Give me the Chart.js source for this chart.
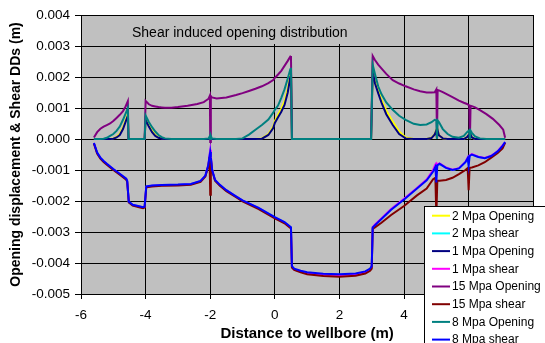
<!DOCTYPE html>
<html>
<head>
<meta charset="utf-8">
<script src="https://cdn.jsdelivr.net/npm/chart.js@4.4.1/dist/chart.umd.min.js"></script>
<style>
  html, body { margin: 0; padding: 0; background: #fff; }
</style>
</head>
<body>
<canvas id="ddChart" width="545" height="343"></canvas>
<script>
// distance along the fracture (m) at which the opening DDs were sampled
const openX = [
  -5.6, -5.5, -5.4, -5.3, -5.2, -5.1, -5.0, -4.9, -4.8, -4.7, -4.62, -4.55, -4.53,
  -4.03,
  -4.0, -3.9, -3.8, -3.7, -3.6, -3.5, -3.4, -3.2, -3.0, -2.7, -2.4, -2.2, -2.05, -2.01, -2.0, -1.98, -1.95,
  -1.8, -1.5, -1.2, -1.0, -0.8, -0.6, -0.4, -0.2, -0.05, 0.0, 0.1, 0.2, 0.3, 0.4, 0.48, 0.5, 0.53,
  2.98,
  3.03, 3.1, 3.2, 3.3, 3.45, 3.65, 3.85, 4.05, 4.3, 4.5, 4.7, 4.85, 4.95, 5.0, 5.02, 5.04, 5.08,
  5.2, 5.35, 5.5, 5.7, 5.85, 5.95, 6.02, 6.04, 6.06, 6.1,
  6.2, 6.35, 6.55, 6.75, 6.95, 7.07, 7.13
]

// distance (m) for the shear DDs
const shearX = [
  -5.6, -5.5, -5.4, -5.3, -5.2, -5.0, -4.8, -4.6, -4.57, -4.52, -4.4, -4.2, -4.08, -4.03, -3.98,
  -3.8, -3.5, -3.0, -2.6, -2.3, -2.15, -2.06, -2.02, -2.0, -1.98, -1.94, -1.85, -1.7, -1.5, -1.2,
  -1.0, -0.5, 0.0, 0.3, 0.5, 0.53, 0.6, 0.8, 1.0, 1.5, 2.0, 2.5, 2.8, 2.95, 3.0,
  3.03, 3.1, 3.3, 3.6, 4.0, 4.4, 4.7, 4.9, 4.97, 5.0, 5.03, 5.1, 5.3, 5.5, 5.7,
  5.9, 5.97, 6.0, 6.03, 6.1, 6.3, 6.5, 6.7, 6.9, 7.05, 7.13
]

const open2 = [
  0, 0, 0, 0, 0, 0, 0.00002, 0.00007, 0.00017, 0.00037, 0.0006, 0.0008, 0,
  0,
  0.00065, 0.00044, 0.00026, 0.00013, 0.00005, 0.00002, 0, 0, 0, 0, 0, 0, 0, 0.00003, 0, 0.00003, 0,
  0, 0, 0, 0, 0, 0, 0.00002, 0.00016, 0.0004, 0.00058, 0.00078, 0.00098, 0.00122, 0.00162, 0.00208, 0.00225, 0,
  0,
  0.00222, 0.00185, 0.00155, 0.00127, 0.00092, 0.00056, 0.00024, 0.00005, 0, 0, 0, 0.00004, 0.00016, 0.0003, 0, 0.0003, 0.00013,
  0.00002, 0, 0, 0, 0, 0.00007, 0.00017, 0, 0.00016, 0.00005,
  0, 0, 0, 0, 0, 0, 0
]

const open1 = [
  0, 0, 0, 0, 0, 0, 0.00001, 0.00005, 0.00013, 0.00032, 0.00055, 0.00075, 0,
  0,
  0.00062, 0.0004, 0.00022, 0.0001, 0.00004, 0.00001, 0, 0, 0, 0, 0, 0, 0, 0.00003, 0, 0.00003, 0,
  0, 0, 0, 0, 0, 0, 0.00001, 0.00013, 0.00035, 0.00052, 0.0007, 0.00088, 0.0011, 0.0015, 0.002, 0.0022, 0,
  0,
  0.0022, 0.0018, 0.00148, 0.00118, 0.0008, 0.00045, 0.00016, 0.00002, 0, 0, 0, 0.00003, 0.00015, 0.00028, 0, 0.00028, 0.00012,
  0.00002, 0, 0, 0, 0, 0.00006, 0.00016, 0, 0.00015, 0.00005,
  0, 0, 0, 0, 0, 0, 0
]

const open15 = [
  0.00005, 0.00022, 0.00033, 0.0004, 0.00045, 0.0005, 0.00058, 0.00068, 0.00078, 0.0009, 0.00105, 0.00122, 0,
  0,
  0.00123, 0.00112, 0.00107, 0.00105, 0.00103, 0.00102, 0.00101, 0.00101, 0.00103, 0.00107, 0.00113, 0.00119, 0.0013, 0.0014, -0.0001, 0.00138, 0.00134,
  0.00131, 0.00134, 0.00142, 0.00148, 0.00155, 0.00162, 0.0017, 0.0018, 0.0019, 0.00197, 0.00208, 0.0022, 0.00236, 0.00252, 0.00266, 0.00268, 0,
  0,
  0.00268, 0.00255, 0.0024, 0.00228, 0.0021, 0.0019, 0.00179, 0.0017, 0.0016, 0.00154, 0.0015, 0.0015, 0.00151, 0.0016, 0, 0.00158, 0.00157,
  0.00151, 0.00143, 0.00135, 0.00124, 0.00117, 0.00113, 0.00108, 0, 0.00107, 0.00106,
  0.00102, 0.00093, 0.0008, 0.00065, 0.00045, 0.0003, 0.00004
]

const open8 = [
  0, 0, 0, 0.00001, 0.00004, 0.0001, 0.00016, 0.00026, 0.0004, 0.00062, 0.00082, 0.001, 0,
  0,
  0.00076, 0.00055, 0.00038, 0.00024, 0.00013, 0.00006, 0.00002, 0, 0, 0, 0, 0, 0.00002, 0.0001, 0, 0.0001, 0.00002,
  0, 0, 0, 0.00002, 0.00014, 0.0003, 0.00045, 0.00063, 0.00085, 0.00094, 0.00108, 0.00133, 0.0016, 0.00195, 0.00225, 0.0023, 0,
  0,
  0.0024, 0.0021, 0.0017, 0.00145, 0.00118, 0.00094, 0.00075, 0.00062, 0.00049, 0.00045, 0.00047, 0.00054, 0.00062, 0.0006, 0, 0.0006, 0.00055,
  0.00032, 0.00016, 0.00007, 0.00004, 0.0001, 0.00022, 0.00028, 0, 0.00027, 0.0002,
  0.00008, 0.00002, 0, 0, 0, 0, 0
]

const shear2 = [
  -0.00013, -0.00044, -0.00061, -0.00072, -0.00081, -0.00098, -0.00113, -0.00129, -0.00136, -0.00203, -0.00213, -0.00218, -0.00221, -0.00219, -0.00154,
  -0.00151, -0.00149, -0.00148, -0.00146, -0.00136, -0.00119, -0.00085, -0.00053, -0.00038, -0.00058, -0.001, -0.00133, -0.00149, -0.00166, -0.00186,
  -0.00199, -0.00223, -0.00253, -0.00269, -0.00286, -0.00412, -0.0042, -0.00427, -0.00432, -0.00437, -0.00438, -0.00436, -0.00429, -0.0042, -0.00412,
  -0.00285, -0.00277, -0.00257, -0.00227, -0.00194, -0.00159, -0.00132, -0.00103, -0.00086, -0.0011, -0.00084, -0.0008, -0.00093, -0.001, -0.00095,
  -0.00075, -0.00061, -0.0008, -0.00054, -0.0005, -0.00058, -0.00062, -0.00055, -0.0004, -0.00022, -0.0001
]

const shear1 = [
  -0.00013, -0.00045, -0.00061, -0.00072, -0.00081, -0.00098, -0.00113, -0.00129, -0.00136, -0.00203, -0.00213, -0.00218, -0.00221, -0.00219, -0.00154,
  -0.00151, -0.00149, -0.00148, -0.00146, -0.00136, -0.00119, -0.00084, -0.0005, -0.00035, -0.00056, -0.00099, -0.00133, -0.00149, -0.00166, -0.00186,
  -0.00199, -0.00223, -0.00254, -0.0027, -0.00287, -0.00413, -0.00421, -0.00428, -0.00433, -0.00438, -0.00439, -0.00437, -0.0043, -0.00421, -0.00413,
  -0.00284, -0.00276, -0.00256, -0.00226, -0.00193, -0.00158, -0.00131, -0.001, -0.00082, -0.00078, -0.00082, -0.00079, -0.00092, -0.00099, -0.00094,
  -0.00074, -0.0006, -0.0007, -0.00053, -0.00049, -0.00057, -0.00061, -0.00054, -0.00039, -0.00021, -0.0001
]

const shear15 = [
  -0.00015, -0.00047, -0.00063, -0.00074, -0.00083, -0.001, -0.00115, -0.00131, -0.00138, -0.00205, -0.00215, -0.0022, -0.00223, -0.00221, -0.00156,
  -0.00153, -0.00151, -0.0015, -0.00148, -0.00138, -0.00121, -0.00088, -0.00058, -0.0018, -0.00063, -0.00103, -0.00135, -0.00151, -0.00168, -0.00188,
  -0.00201, -0.00226, -0.00256, -0.00272, -0.00289, -0.00415, -0.00422, -0.0043, -0.00436, -0.00442, -0.00444, -0.00441, -0.00434, -0.00425, -0.00418,
  -0.0029, -0.00285, -0.0027, -0.00245, -0.00216, -0.00182, -0.0016, -0.0013, -0.00125, -0.0025, -0.00135, -0.00135, -0.00132, -0.00125, -0.00113,
  -0.001, -0.00094, -0.00165, -0.00093, -0.00092, -0.00085, -0.00075, -0.0006, -0.00045, -0.0003, -0.00012
]

const shear8 = [
  -0.00013, -0.00044, -0.0006, -0.00071, -0.0008, -0.00097, -0.00112, -0.00128, -0.00135, -0.00202, -0.00212, -0.00217, -0.0022, -0.00218, -0.00153,
  -0.0015, -0.00148, -0.00147, -0.00145, -0.00135, -0.00118, -0.00085, -0.00055, -0.00042, -0.0006, -0.001, -0.00132, -0.00148, -0.00165, -0.00185,
  -0.00198, -0.00222, -0.00252, -0.00268, -0.00285, -0.0041, -0.00418, -0.00425, -0.0043, -0.00435, -0.00436, -0.00434, -0.00427, -0.00418, -0.0041,
  -0.00285, -0.00278, -0.00258, -0.00228, -0.00195, -0.0016, -0.00133, -0.00105, -0.0009, -0.0014, -0.00085, -0.0008, -0.00093, -0.001, -0.00095,
  -0.00075, -0.00062, -0.00087, -0.00055, -0.0005, -0.00058, -0.00062, -0.00055, -0.0004, -0.00022, -0.0001
]

const seriesNames = ['2 Mpa Opening', '2 Mpa shear', '1 Mpa Opening', '1 Mpa shear',
  '15 Mpa Opening', '15 Mpa shear', '8 Mpa Opening', '8 Mpa shear']
const seriesColors = ['#FFFF00', '#00FFFF', '#000080', '#FF00FF',
  '#800080', '#800000', '#008080', '#0000FF']
const seriesX = [openX, shearX, openX, shearX, openX, shearX, openX, shearX]
const seriesY = [open2, shear2, open1, shear1, open15, shear15, open8, shear8]

const FONT = '"Liberation Sans", Arial, sans-serif'

const datasets = seriesNames.map((name, i) => ({
    label: name,
    data: seriesX[i].map((x, j) => ({ x: x, y: seriesY[i][j] })),
    borderColor: seriesColors[i],
    backgroundColor: seriesColors[i],
    borderWidth: 2,
    pointRadius: 0,
    tension: 0,
    // later series sit on top, like the spreadsheet
    order: seriesNames.length - i
}))

// grey plot area
const plotBg = {
    id: 'plotBg',
    beforeDraw(chart) {
        const { ctx, chartArea: a } = chart
        ctx.save()
        ctx.fillStyle = '#C0C0C0'
        ctx.fillRect(a.left, a.top, a.right - a.left, a.bottom - a.top)
        ctx.restore()
    }
}

// caption inside the plot, on a grey patch over the grid
const caption = {
    id: 'caption',
    beforeDatasetsDraw(chart) {
        const { ctx, chartArea: a } = chart
        ctx.save()
        ctx.fillStyle = '#C0C0C0'
        ctx.fillRect(a.left + 46, a.top + 1, 226, 28)
        ctx.fillStyle = '#000'
        ctx.font = '14px ' + FONT
        ctx.textBaseline = 'middle'
        ctx.fillText('Shear induced opening distribution', a.left + 51, a.top + 18)
        ctx.restore()
    }
}

// boxed legend sitting over the lower right corner
const boxLegend = {
    id: 'boxLegend',
    afterDraw(chart) {
        const { ctx } = chart
        const left = 424, top = 206, pitch = 17.7
        ctx.save()
        ctx.fillStyle = '#fff'
        ctx.fillRect(left, top, 130, 150)
        ctx.strokeStyle = '#000'
        ctx.lineWidth = 1
        ctx.strokeRect(left + 0.5, top + 0.5, 130, 150)
        ctx.font = '12px ' + FONT
        ctx.textBaseline = 'middle'
        chart.data.datasets.forEach((ds, i) => {
            const y = top + 9.7 + i * pitch
            ctx.strokeStyle = ds.borderColor
            ctx.lineWidth = 2
            ctx.beginPath()
            ctx.moveTo(left + 8, y)
            ctx.lineTo(left + 26, y)
            ctx.stroke()
            ctx.fillStyle = '#000'
            ctx.fillText(ds.label, left + 28, y + 0.5)
        })
        ctx.restore()
    }
}

new Chart(document.getElementById('ddChart'), {
    type: 'line',
    data: { datasets },
    plugins: [plotBg, caption, boxLegend],
    options: {
        responsive: false,
        animation: false,
        layout: { padding: { top: 15, right: 11, left: 0, bottom: 0 } },
        plugins: {
            legend: { display: false },
            tooltip: { enabled: false }
        },
        scales: {
            x: {
                type: 'linear',
                min: -6,
                max: 8,
                afterFit: (scale) => { scale.height = 49 },
                ticks: {
                    stepSize: 2,
                    color: '#000',
                    padding: 8,
                    maxRotation: 0,
                    font: { family: FONT, size: 13.5 }
                },
                grid: { color: '#000', lineWidth: 1, tickLength: 5 },
                border: { color: '#000' },
                title: {
                    display: true,
                    text: 'Distance to wellbore (m)',
                    color: '#000',
                    padding: { top: 0, bottom: 0 },
                    font: { family: FONT, size: 15, weight: 'bold' }
                }
            },
            y: {
                min: -0.005,
                max: 0.004,
                afterFit: (scale) => { scale.width = 81 },
                ticks: {
                    stepSize: 0.001,
                    color: '#000',
                    padding: 5,
                    font: { family: FONT, size: 13.5 },
                    callback: (v) => Math.abs(v) < 1e-9 ? '0.000' : v.toFixed(3)
                },
                grid: { color: '#000', lineWidth: 1, tickLength: 6 },
                border: { color: '#000' },
                title: {
                    display: true,
                    text: 'Opening displacement & Shear DDs (m)',
                    color: '#000',
                    padding: { top: 8, bottom: 0 },
                    font: { family: FONT, size: 14, weight: 'bold' }
                }
            }
        }
    }
})
</script>
</body>
</html>
